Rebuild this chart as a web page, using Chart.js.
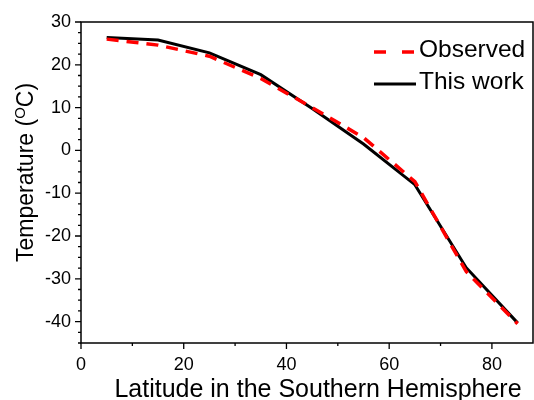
<!DOCTYPE html>
<html>
<head>
<meta charset="utf-8">
<script src="https://cdn.jsdelivr.net/npm/chart.js@4.4.1/dist/chart.umd.min.js"></script>
<style>
  html, body { margin: 0; padding: 0; background: #fff; }
  #wrap { width: 534px; height: 400px; }
</style>
</head>
<body>
<div id="wrap"><canvas id="grafico"></canvas></div>
<script>
// latitudes (degrees south)
const latitudes = [5, 15, 25, 35, 45, 55, 65, 75, 85];
const observado = [26.0, 24.6, 22.0, 16.8, 10.0, 3.0, -7.3, -28.3, -40.5];
const esteTrabalho = [26.4, 25.8, 22.8, 17.7, 9.8, 1.5, -8.0, -27.4, -40.3];

const xTicks = [0, 20, 40, 60, 80];
const xMinor = [10, 30, 50, 70];
const yTicks = [30, 20, 10, 0, -10, -20, -30, -40];

const fonte = "'Liberation Sans', Arial, sans-serif";

/* eixos, legenda e titulos desenhados à mão */
const extras = {
  id: "extras",
  afterDraw(chart) {
    const ctx = chart.ctx;
    const a = chart.chartArea;
    const sx = chart.scales.x, sy = chart.scales.y;
    ctx.save();
    // moldura
    ctx.strokeStyle = "#000";
    ctx.lineWidth = 1.5;
    ctx.strokeRect(a.left, a.top, a.right - a.left, a.bottom - a.top);
    // ticks x
    ctx.lineWidth = 1.3;
    ctx.beginPath();
    xTicks.forEach(v => { const p = sx.getPixelForValue(v); ctx.moveTo(p, a.bottom); ctx.lineTo(p, a.bottom + 6); });
    xMinor.forEach(v => { const p = sx.getPixelForValue(v); ctx.moveTo(p, a.bottom); ctx.lineTo(p, a.bottom + 3); });
    // ticks y (menores a cada 2.5)
    for (let v = -45; v <= 30; v += 2.5) {
      const p = sy.getPixelForValue(v);
      const major = v % 10 === 0;
      ctx.moveTo(a.left, p);
      ctx.lineTo(a.left - (major ? 6 : 3), p);
    }
    ctx.stroke();

    // legenda
    ctx.lineWidth = 3.5;
    ctx.strokeStyle = "#ff0000";
    ctx.setLineDash([12, 16]);
    ctx.beginPath(); ctx.moveTo(374, 52); ctx.lineTo(416, 52); ctx.stroke();
    ctx.setLineDash([]);
    ctx.strokeStyle = "#000";
    ctx.lineWidth = 3;
    ctx.beginPath(); ctx.moveTo(374, 84); ctx.lineTo(416, 84); ctx.stroke();
    ctx.fillStyle = "#000";
    ctx.font = "24.5px " + fonte;
    ctx.textAlign = "left";
    ctx.textBaseline = "alphabetic";
    ctx.fillText("Observed", 419, 57);
    ctx.fillText("This work", 419, 89);

    // titulo x
    ctx.font = "25px " + fonte;
    ctx.textAlign = "center";
    ctx.fillText("Latitude in the Southern Hemisphere", 318, 397);

    // titulo y com O sobrescrito
    ctx.translate(33, 262);
    ctx.rotate(-Math.PI / 2);
    ctx.textAlign = "left";
    ctx.font = "23px " + fonte;
    const p1 = "Temperature (";
    ctx.fillText(p1, 0, 0);
    let w = ctx.measureText(p1).width;
    ctx.font = "15px " + fonte;
    ctx.fillText("O", w, -8);
    w += ctx.measureText("O").width;
    ctx.font = "23px " + fonte;
    ctx.fillText("C)", w, 0);
    ctx.restore();
  }
};

new Chart(document.getElementById("grafico"), {
  type: "line",
  data: {
    labels: latitudes,
    datasets: [
      {
        label: "Observed",
        data: latitudes.map((x, i) => ({ x: x, y: observado[i] })),
        borderColor: "#ff0000",
        borderWidth: 3.5,
        borderDash: [12, 8],
        pointRadius: 0,
        tension: 0
      },
      {
        label: "This work",
        data: latitudes.map((x, i) => ({ x: x, y: esteTrabalho[i] })),
        borderColor: "#000000",
        borderWidth: 3,
        pointRadius: 0,
        tension: 0
      }
    ]
  },
  options: {
    responsive: true,
    maintainAspectRatio: false,
    animation: false,
    layout: { padding: { top: 22, right: 1, left: 0, bottom: 0 } },
    plugins: {
      legend: { display: false },
      tooltip: { enabled: false }
    },
    scales: {
      x: {
        type: "linear",
        min: 0,
        max: 88,
        grid: { display: false, drawTicks: false, tickLength: 0 },
        border: { display: false },
        afterBuildTicks: s => { s.ticks = xTicks.map(v => ({ value: v })); },
        afterFit: s => { s.height = 57; },
        ticks: { color: "#000", font: { size: 18, family: fonte }, padding: 11, maxRotation: 0 }
      },
      y: {
        min: -45,
        max: 30,
        grid: { display: false, drawTicks: false, tickLength: 0 },
        border: { display: false },
        afterBuildTicks: s => { s.ticks = yTicks.map(v => ({ value: v })); },
        afterFit: s => { s.width = 81; },
        ticks: { color: "#000", font: { size: 18, family: fonte }, padding: 10 }
      }
    }
  },
  plugins: [extras]
});
</script>
</body>
</html>
